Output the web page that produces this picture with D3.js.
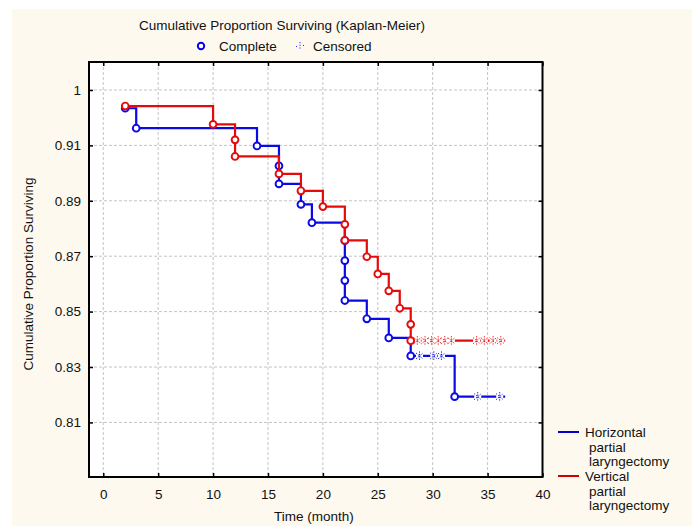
<!DOCTYPE html>
<html>
<head>
<meta charset="utf-8">
<script src="https://cdn.jsdelivr.net/npm/d3@7"></script>
<style>
  body { margin: 0; background: #fff; }
  text { font-family: 'Liberation Sans', Arial, sans-serif; font-size: 13.5px; fill: #111; }
</style>
</head>
<body>
<svg id="canvas" width="692" height="526"></svg>
<script>
const xTicks = [0, 5, 10, 15, 20, 25, 30, 35, 40];
const yTicks = [0.93, 0.91, 0.89, 0.87, 0.85, 0.83, 0.81];
const yTickLabels = ['1', '0.91', '0.89', '0.87', '0.85', '0.83', '0.81'];

// Horizontal partial laryngectomy
const horizTimes = [2, 3, 14, 16, 16, 18, 19, 22, 22, 22, 22, 24, 26, 28, 32];
const horizSurv = [0.9234, 0.9162, 0.9098, 0.9026, 0.8961, 0.8887, 0.8821, 0.8756, 0.8684, 0.8612, 0.854, 0.8474, 0.8405, 0.834, 0.8193];
const horizCensored = [28.8, 30.1, 30.8, 34.1, 36.1];
const horizEnd = 36.6;

// Vertical partial laryngectomy
const vertTimes = [2, 10, 12, 12, 16, 18, 20, 22, 22, 24, 25, 26, 27, 28, 28];
const vertSurv = [0.9242, 0.9176, 0.912, 0.906, 0.8997, 0.8936, 0.8879, 0.8815, 0.8757, 0.8698, 0.8636, 0.8575, 0.8512, 0.8454, 0.8395];
const vertCensored = [28.6, 29.3, 29.9, 30.5, 31.1, 31.7, 34.0, 34.7, 35.5, 36.2];
const vertEnd = 36.6;

const legendLines = [
  ['Horizontal', 'partial', 'laryngectomy'],
  ['Vertical', 'partial', 'laryngectomy']
];

const blue = '#0a0ae6';
const red = '#e60a0a';

const svg = d3.select('#canvas');

let x = d3.scaleLinear().domain([-1.3, 40]).range([89, 542.5]);
let y = d3.scaleLinear().domain([0.7903, 0.9401]).range([477, 62]);

// cream panel
svg.append('rect')
  .attr('x', 12).attr('y', 9)
  .attr('width', 680).attr('height', 517)
  .attr('fill', '#fdf9ef');

svg.append('rect')
  .attr('x', x.range()[0]).attr('y', y.range()[1])
  .attr('width', x.range()[1] - x.range()[0])
  .attr('height', y.range()[0] - y.range()[1])
  .attr('fill', '#fff');

// grid
svg.append('g')
  .selectAll('line')
  .data(xTicks)
  .enter()
  .append('line')
  .attr('x1', (d) => x(d)).attr('x2', (d) => x(d))
  .attr('y1', y.range()[1]).attr('y2', y.range()[0])
  .attr('stroke', '#c4c4c4')
  .attr('stroke-dasharray', '3,2');

svg.append('g')
  .selectAll('line')
  .data(yTicks)
  .enter()
  .append('line')
  .attr('x1', x.range()[0]).attr('x2', x.range()[1])
  .attr('y1', (d) => y(d)).attr('y2', (d) => y(d))
  .attr('stroke', '#c4c4c4')
  .attr('stroke-dasharray', '3,2');

// axes with inward ticks
let xAxis = d3.axisBottom(x).tickValues(xTicks).tickSizeInner(-4).tickSizeOuter(0).tickPadding(12);
let yAxis = d3.axisLeft(y).tickValues(yTicks).tickSizeInner(-4).tickSizeOuter(0).tickPadding(8)
  .tickFormat((d, i) => yTickLabels[i]);

let gx = svg.append('g').attr('transform', 'translate(0,' + y.range()[0] + ')').call(xAxis);
let gy = svg.append('g').attr('transform', 'translate(' + x.range()[0] + ',0)').call(yAxis);
svg.append('g').attr('transform', 'translate(0,' + y.range()[1] + ')')
  .call(d3.axisTop(x).tickValues(xTicks).tickSizeInner(-4).tickSizeOuter(0).tickFormat(''));
svg.append('g').attr('transform', 'translate(' + x.range()[1] + ',0)')
  .call(d3.axisRight(y).tickValues(yTicks).tickSizeInner(-4).tickSizeOuter(0).tickFormat(''));

svg.selectAll('.domain').remove();
svg.selectAll('.tick line').attr('stroke', '#000').attr('stroke-width', 1.5);
svg.selectAll('.tick text').style('font-size', '13.5px').style('font-family', "'Liberation Sans', Arial, sans-serif").attr('fill', '#111');

svg.append('rect')
  .attr('x', x.range()[0]).attr('y', y.range()[1])
  .attr('width', x.range()[1] - x.range()[0])
  .attr('height', y.range()[0] - y.range()[1])
  .attr('fill', 'none')
  .attr('stroke', '#000')
  .attr('stroke-width', 2);

// curves
let stepLine = d3.line()
  .x((d) => x(d[0]))
  .y((d) => y(d[1]))
  .curve(d3.curveStepAfter);

let survAt = (times, surv, t) => {
  let s = surv[0];
  times.forEach((tt, i) => {
    if (tt <= t) s = surv[i];
  });
  return s;
};

let drawCurve = (times, surv, censored, end, color) => {
  let pts = times.map((t, i) => [t, surv[i]]);
  pts.push([end, surv[surv.length - 1]]);

  svg.append('path')
    .attr('d', stepLine(pts))
    .attr('fill', 'none')
    .attr('stroke', color)
    .attr('stroke-width', 2.2);

  let marks = svg.append('g')
    .selectAll('g')
    .data(censored)
    .enter()
    .append('g')
    .attr('transform', (c) => 'translate(' + x(c) + ',' + y(survAt(times, surv, c)) + ')');

  marks.append('rect')
    .attr('x', -3.5).attr('y', -2).attr('width', 7).attr('height', 4)
    .attr('fill', '#fff');

  marks.append('path')
    .attr('d', 'M-3.5,-3L3.5,3M-3.5,3L3.5,-3M0,-4.5V4.5')
    .attr('stroke', color)
    .attr('stroke-width', 1)
    .attr('stroke-dasharray', '1.2,1.2')
    .attr('fill', 'none');

  svg.append('g')
    .selectAll('circle')
    .data(pts.slice(0, times.length))
    .enter()
    .append('circle')
    .attr('cx', (d) => x(d[0]))
    .attr('cy', (d) => y(d[1]))
    .attr('r', 3.4)
    .attr('fill', '#fff')
    .attr('stroke', color)
    .attr('stroke-width', 1.9);
};

drawCurve(horizTimes, horizSurv, horizCensored, horizEnd, blue);
drawCurve(vertTimes, vertSurv, vertCensored, vertEnd, red);

// titles
svg.append('text')
  .attr('x', 282).attr('y', 30)
  .attr('text-anchor', 'middle')
  .text('Cumulative Proportion Surviving (Kaplan-Meier)');

svg.append('text')
  .attr('x', 314).attr('y', 521)
  .attr('text-anchor', 'middle')
  .text('Time (month)');

svg.append('text')
  .attr('transform', 'translate(33,274) rotate(-90)')
  .attr('text-anchor', 'middle')
  .text('Cumulative Proportion Surviving');

// top legend
svg.append('circle')
  .attr('cx', 201).attr('cy', 46).attr('r', 3.2)
  .attr('fill', '#fff').attr('stroke', '#0000ee').attr('stroke-width', 1.9);
svg.append('text').attr('x', 219).attr('y', 51).text('Complete');
svg.append('path')
  .attr('d', 'M300,42V50M296,46.5h1M303,45.5h1')
  .attr('stroke', '#3030ee')
  .attr('stroke-width', 1)
  .attr('stroke-dasharray', '1.2,1.5');
svg.append('text').attr('x', 313).attr('y', 51).text('Censored');

// right legend
let legend = svg.append('g')
  .selectAll('g')
  .data(legendLines)
  .enter()
  .append('g')
  .attr('transform', (d, i) => 'translate(0,' + (432 + i * 44) + ')');

legend.append('line')
  .attr('x1', 558).attr('x2', 579)
  .attr('y1', 0).attr('y2', 0)
  .attr('stroke', (d, i) => (i === 0 ? '#0000cc' : '#cc0000'))
  .attr('stroke-width', 2);

legend.selectAll('text')
  .data((d) => d)
  .enter()
  .append('text')
  .attr('x', (d, j) => (j === 0 ? 585 : 589))
  .attr('y', (d, j) => 5 + j * 14.5)
  .text((d) => d);
</script>
</body>
</html>
